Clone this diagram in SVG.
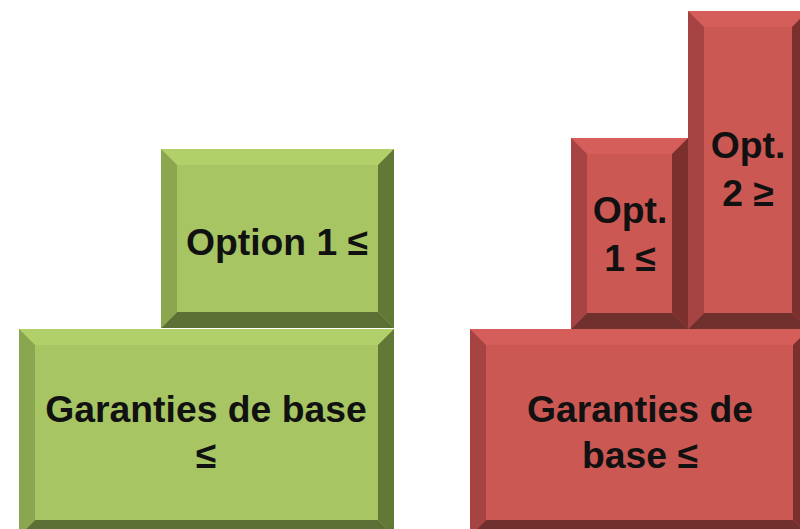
<svg xmlns="http://www.w3.org/2000/svg" width="800" height="529" viewBox="0 0 800 529">
<style>
.gf{fill:#A7C563}.gt{fill:#B1D06A}.gl{fill:#8AA64E}.gr{fill:#627837}.gb{fill:#5C6F35}
.rf{fill:#CC5854}.rt{fill:#D55E5B}.rl{fill:#A54442}.rr{fill:#7B302E}.rb{fill:#6F302E}
text{font-family:"Liberation Sans",Arial,sans-serif;font-weight:bold;font-size:37.3px;fill:#111;text-anchor:middle}
</style>
<rect width="800" height="529" fill="#fff"/>
<g id="connectors"/>
<g id="green-option1">
<rect class="gf" x="161" y="149" width="233" height="179"/>
<polygon class="gt" points="161,149 394,149 378,165 177,165"/>
<polygon class="gr" points="394,149 394,328 378,312 378,165"/>
<polygon class="gb" points="161,328 394,328 378,312 177,312"/>
<polygon class="gl" points="161,149 161,328 177,312 177,165"/>
<text x="277" y="255">Option 1 ≤</text>
</g>
<g id="green-base">
<rect class="gf" x="19" y="329" width="375" height="207"/>
<polygon class="gt" points="19,329 394,329 378,345 35,345"/>
<polygon class="gr" points="394,329 394,536 378,520 378,345"/>
<polygon class="gb" points="19,536 394,536 378,520 35,520"/>
<polygon class="gl" points="19,329 19,536 35,520 35,345"/>
<text x="206" y="422">Garanties de base</text>
<text x="206" y="468">≤</text>
</g>
<g id="red-opt1">
<rect class="rf" x="571" y="138" width="117" height="191"/>
<polygon class="rt" points="571,138 688,138 672,154 587,154"/>
<polygon class="rr" points="688,138 688,329 672,313 672,154"/>
<polygon class="rb" points="571,329 688,329 672,313 587,313"/>
<polygon class="rl" points="571,138 571,329 587,313 587,154"/>
<text x="630" y="223">Opt.</text>
<text x="630" y="271">1 ≤</text>
</g>
<g id="red-opt2">
<rect class="rf" x="688" y="11" width="120" height="318"/>
<polygon class="rt" points="688,11 808,11 792,27 704,27"/>
<polygon class="rr" points="808,11 808,329 792,313 792,27"/>
<polygon class="rb" points="688,329 808,329 792,313 704,313"/>
<polygon class="rl" points="688,11 688,329 704,313 704,27"/>
<text x="748" y="158">Opt.</text>
<text x="748" y="206">2 ≥</text>
</g>
<g id="red-base">
<rect class="rf" x="470" y="329" width="339" height="207"/>
<polygon class="rt" points="470,329 809,329 793,345 486,345"/>
<polygon class="rr" points="809,329 809,536 793,520 793,345"/>
<polygon class="rb" points="470,536 809,536 793,520 486,520"/>
<polygon class="rl" points="470,329 470,536 486,520 486,345"/>
<text x="640" y="422">Garanties de</text>
<text x="640" y="468">base ≤</text>
</g>
</svg>
